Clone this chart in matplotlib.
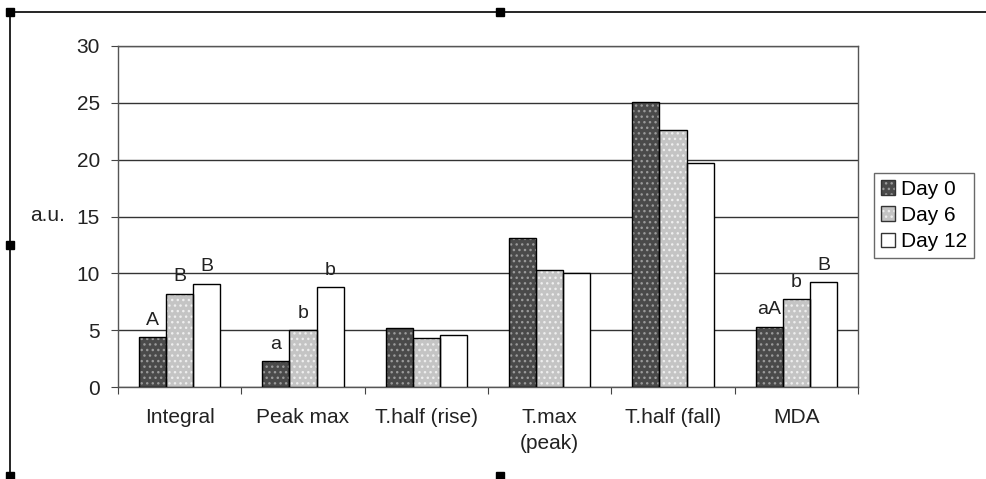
import matplotlib.pyplot as plt
from matplotlib.patches import Rectangle, Patch
import numpy as np

plt.rcParams['font.family'] = ['Liberation Sans', 'DejaVu Sans']

# Данные
categories = ['Integral', 'Peak max', 'T.half (rise)', 'T.max\n(peak)', 'T.half (fall)', 'MDA']
day0 = [4.4, 2.3, 5.2, 13.1, 25.1, 5.3]
day6 = [8.2, 5.0, 4.3, 10.3, 22.6, 7.7]
day12 = [9.1, 8.8, 4.6, 10.0, 19.7, 9.2]
series_names = ['Day 0', 'Day 6', 'Day 12']

# Буквы значимости над столбцами: (категория, серия, текст)
letters = [(0, 0, 'A'), (0, 1, 'B'), (0, 2, 'B'),
           (1, 0, 'a'), (1, 1, 'b'), (1, 2, 'b'),
           (5, 0, 'aA'), (5, 1, 'b'), (5, 2, 'B')]

fig = plt.figure(figsize=(9.86, 4.79), dpi=100)
ax = fig.add_axes([0.1197, 0.192, 0.7505, 0.712])

x = np.arange(len(categories))
w = 0.22
fills = ['#4a4a4a', '#c4c4c4', 'white']
hatch_cols = ['#9a9a9a', '#eeeeee', 'white']
all_series = [day0, day6, day12]

handles = []
for i, vals in enumerate(all_series):
    pos = x + (i - 1) * w
    # заливка, потом точки, потом контур
    ax.bar(pos, vals, w, color=fills[i], linewidth=0, zorder=3)
    if i < 2:
        ax.bar(pos, vals, w, color='none', edgecolor=hatch_cols[i],
               hatch='...', linewidth=0, zorder=3.2)
    ax.bar(pos, vals, w, color='none', edgecolor='black', linewidth=1, zorder=3.5)
    h = (Patch(facecolor=fills[i], linewidth=0),
         Patch(facecolor='none', edgecolor=hatch_cols[i], hatch='...' if i < 2 else None, linewidth=0),
         Patch(facecolor='none', edgecolor='#333333', linewidth=1))
    handles.append(h)

for cat, s, txt in letters:
    val = all_series[s][cat]
    xp = x[cat] + (s - 1) * w
    ax.annotate(txt, (xp, val), xytext=(0, 6), textcoords='offset points',
                ha='center', va='bottom', fontsize=14, color='#222222')

ax.set_xlim(-0.5, len(categories) - 0.5)
ax.set_ylim(0, 30)
ax.set_yticks(np.arange(0, 31, 5))
ax.yaxis.grid(True, color='#333333', linewidth=1)
ax.set_axisbelow(True)

ax.set_xticks(np.arange(-0.5, len(categories)), minor=False)
ax.set_xticklabels([])
ax.set_xticks(x, minor=True)
ax.set_xticklabels(categories, minor=True, fontsize=15, color='#222222', linespacing=1.45)
ax.tick_params(axis='x', which='major', direction='out', length=5, color='#444444')
ax.tick_params(axis='x', which='minor', length=0, pad=15)
ax.tick_params(axis='y', direction='out', length=5, color='#444444', labelsize=15,
               labelcolor='#222222', pad=8)

for sp in ax.spines.values():
    sp.set_color('#555555')
    sp.set_linewidth(1)

ax.set_ylabel('a.u.', rotation=0, fontsize=15, color='#222222', ha='center', va='center')
ax.yaxis.set_label_coords(-0.0957, 0.503)

leg = ax.legend(handles=handles, labels=series_names, loc='center left',
                bbox_to_anchor=(1.022, 0.503),
                frameon=True, fancybox=False, edgecolor='#444444', fontsize=15,
                handlelength=0.7, handleheight=0.7, handletextpad=0.3,
                borderpad=0.3, labelspacing=0.35, borderaxespad=0)
leg.get_frame().set_linewidth(1)

# Рамка диаграммы и маркеры выделения
fig.add_artist(plt.Line2D([0.010, 1.0], [0.975, 0.975], color='black', lw=1.2,
                          transform=fig.transFigure))
fig.add_artist(plt.Line2D([0.010, 0.010], [0.0, 0.975], color='black', lw=1.2,
                          transform=fig.transFigure))
for hx, hy in [(0.010, 0.975), (0.507, 0.975), (0.010, 0.488), (0.010, 0.006), (0.507, 0.006)]:
    fig.add_artist(Rectangle((hx - 0.004, hy - 0.008), 0.008, 0.016, color='black',
                             transform=fig.transFigure))

fig.savefig('out.png', dpi=100, facecolor='white')
